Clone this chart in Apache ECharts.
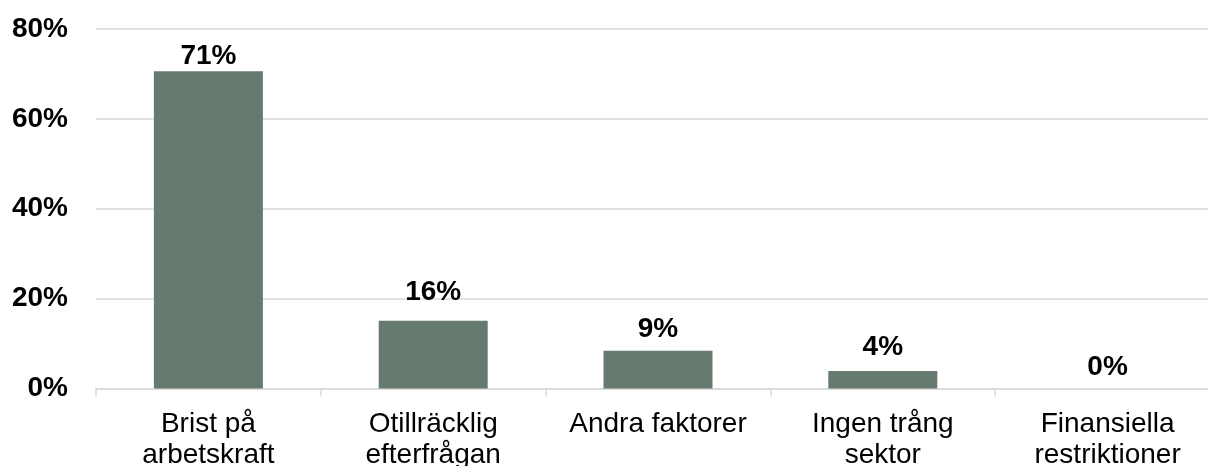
<!DOCTYPE html>
<html>
<head>
<meta charset="utf-8">
<script src="https://cdn.jsdelivr.net/npm/echarts@6/dist/echarts.min.js"></script>
<style>
html,body{margin:0;padding:0;background:#fff;overflow:hidden;width:1208px;height:466px;}
#wrap{width:1208px;height:466px;overflow:hidden;position:relative;}
#chart{width:1220px;height:466px;position:absolute;left:0;top:0;}
</style>
</head>
<body>
<div id="wrap"><div id="chart"></div></div>
<script>
const categories = ["Brist på\narbetskraft", "Otillräcklig\nefterfrågan", "Andra faktorer", "Ingen trång\nsektor", "Finansiella\nrestriktioner"];
const values = [70.6, 15.1, 8.4, 3.9, 0];
const valueLabels = ["71%", "16%", "9%", "4%", "0%"];
const yTicks = [0, 20, 40, 60, 80];

const labelDistances = [1, 14, 7, 10, 7];
const font = "'Liberation Sans', Arial, sans-serif";

const chart = echarts.init(document.getElementById('chart'), null, {renderer: 'canvas', width: 1220, height: 466});
chart.setOption({
  animation: false,
  backgroundColor: '#fff',
  grid: {left: 96, right: 0, top: 29, bottom: 77.5, containLabel: false, outerBoundsMode: 'none'},
  xAxis: {
    type: 'category',
    data: categories,
    axisLine: {lineStyle: {color: '#d9d9d9', width: 1.5}},
    axisTick: {show: true, length: 8, lineStyle: {color: '#d9d9d9', width: 1.5}},
    axisLabel: {color: '#000', fontFamily: font, fontSize: 28, lineHeight: 31, margin: 20, interval: 0}
  },
  yAxis: {
    type: 'value',
    min: yTicks[0],
    max: yTicks[yTicks.length - 1],
    interval: 20,
    axisLine: {show: false},
    axisTick: {show: false},
    splitLine: {lineStyle: {color: '#d9d9d9', width: 1.5}},
    axisLabel: {color: '#000', fontFamily: font, fontSize: 28, fontWeight: 'bold', margin: 28, formatter: v => v + '%'}
  },
  series: [{
    type: 'bar',
    barWidth: 109,
    data: values.map((v, i) => ({
      value: v,
      label: {distance: labelDistances[i]}
    })),
    itemStyle: {color: '#667a70'},
    label: {
      show: true,
      position: 'top',
      color: '#000',
      fontFamily: font,
      fontSize: 28,
      fontWeight: 'bold',
      formatter: p => valueLabels[p.dataIndex]
    }
  }]
});
</script>
</body>
</html>
